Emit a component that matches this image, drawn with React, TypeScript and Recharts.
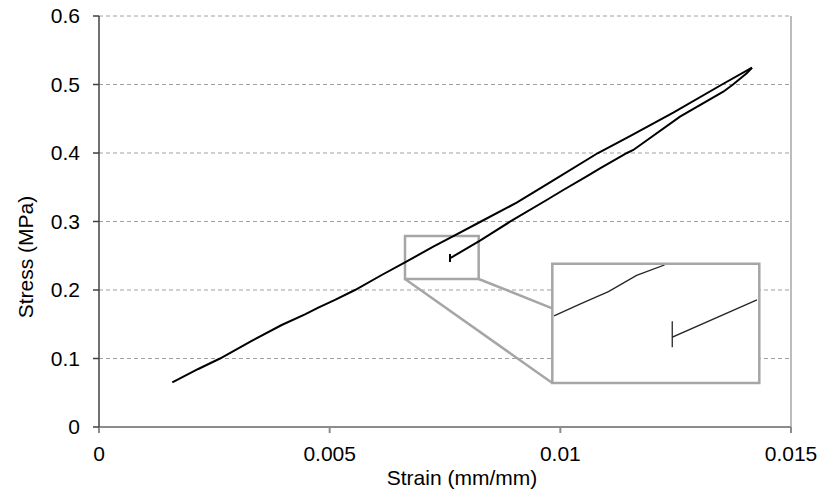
import {
  LineChart,
  Line,
  XAxis,
  YAxis,
  CartesianGrid,
  ReferenceArea,
  ReferenceLine,
} from "recharts";

// loading branch (strain mm/mm, stress MPa)
const loadStrain = [
  0.001589, 0.002152, 0.002623, 0.00331, 0.00396, 0.004465, 0.004754,
  0.005116, 0.005549, 0.006128, 0.006633, 0.007246, 0.00768, 0.00828,
  0.009054, 0.009776, 0.010816, 0.01151, 0.012448, 0.013504, 0.014155,
];
const loadStress = [
  0.0653, 0.0847, 0.1, 0.1256, 0.1489, 0.1645, 0.1742, 0.1855, 0.2,
  0.2219, 0.2404, 0.2632, 0.2788, 0.3, 0.3275, 0.357, 0.4, 0.4245, 0.459,
  0.5, 0.5245,
];

// unloading branch, ends with the small vertical tick
const unloadStrain = [
  0.014155, 0.01404, 0.013743, 0.013532, 0.012594, 0.011582, 0.011445,
  0.01086, 0.010571, 0.010064, 0.009704, 0.008909, 0.008259, 0.007608,
  0.007608, 0.007608,
];
const unloadStress = [
  0.5245, 0.5164, 0.5, 0.4895, 0.453, 0.4044, 0.4, 0.3777, 0.366, 0.346,
  0.3314, 0.2997, 0.272, 0.2463, 0.2526, 0.2409,
];

// magnified view (inset)
const insetLoadStrain = [0.006641, 0.006847, 0.007065, 0.007284, 0.007502];
const insetLoadStress = [0.2515, 0.258, 0.2645, 0.2732, 0.2788];
const insetUnloadStrain = [0.008222, 0.007562, 0.007562, 0.007562];
const insetUnloadStress = [0.2601, 0.2401, 0.2487, 0.2347];

// zoom window and inset frame (data units)
const zoomX = [0.006633, 0.00823];
const zoomY = [0.2161, 0.2788];
const frameX = [0.009826, 0.014313];
const frameY = [0.06423, 0.2384];
const connectorY = 0.1733;

const xTicks = [0, 0.005, 0.01, 0.015];
const yTicks = [0, 0.1, 0.2, 0.3, 0.4, 0.5, 0.6];

const zip = (xs: number[], ys: number[]) =>
  xs.map((x, i) => ({ x, y: ys[i] }));

const font = "'Liberation Sans', Arial, sans-serif";
const frameColor = "#a6a6a6";

const App = () => {
  const tickStyle = { fontFamily: font, fontSize: 21, fill: "#000" };

  return (
    <div style={{ position: "absolute", left: 0, top: 0, width: 822, height: 498 }}>
      <LineChart
        width={822}
        height={498}
        margin={{ top: 16, right: 31, bottom: 0, left: 0 }}
      >
        <CartesianGrid
          vertical={false}
          stroke="#a0a0a0"
          strokeDasharray="4 3"
        />
        <XAxis
          type="number"
          dataKey="x"
          domain={[0, 0.015]}
          ticks={xTicks}
          height={71}
          tick={tickStyle}
          tickSize={6}
          tickMargin={13}
          stroke="#8c8c8c"
          strokeWidth={2}
          label={() => (
            <text
              x={462}
              y={485}
              textAnchor="middle"
              fontFamily={font}
              fontSize={21}
              fill="#000"
            >
              Strain (mm/mm)
            </text>
          )}
        />
        <YAxis
          type="number"
          dataKey="y"
          domain={[0, 0.6]}
          ticks={yTicks}
          width={99}
          tick={tickStyle}
          tickSize={6}
          tickMargin={13}
          stroke="#404040"
          strokeWidth={1.5}
          label={() => (
            <text
              x={33}
              y={257}
              transform="rotate(-90 33 257)"
              textAnchor="middle"
              fontFamily={font}
              fontSize={21}
              fill="#000"
            >
              Stress (MPa)
            </text>
          )}
        />
        <ReferenceLine x={0.015} stroke={frameColor} strokeWidth={1.5} />
        <ReferenceArea
          x1={frameX[0]}
          x2={frameX[1]}
          y1={frameY[0]}
          y2={frameY[1]}
          fill="#fff"
          fillOpacity={1}
          stroke={frameColor}
          strokeWidth={2.5}
        />
        <ReferenceArea
          x1={zoomX[0]}
          x2={zoomX[1]}
          y1={zoomY[0]}
          y2={zoomY[1]}
          fill="none"
          stroke={frameColor}
          strokeWidth={2.5}
        />
        <ReferenceLine
          segment={[
            { x: zoomX[0], y: zoomY[0] },
            { x: frameX[0], y: frameY[0] },
          ]}
          stroke={frameColor}
          strokeWidth={2.5}
        />
        <ReferenceLine
          segment={[
            { x: zoomX[1], y: zoomY[0] },
            { x: frameX[0], y: connectorY },
          ]}
          stroke={frameColor}
          strokeWidth={2.5}
        />
        <Line
          data={zip(loadStrain, loadStress)}
          dataKey="y"
          type="linear"
          stroke="#000"
          strokeWidth={2}
          dot={false}
          isAnimationActive={false}
        />
        <Line
          data={zip(unloadStrain, unloadStress)}
          dataKey="y"
          type="linear"
          stroke="#000"
          strokeWidth={2}
          dot={false}
          isAnimationActive={false}
        />
      </LineChart>

      <div style={{ position: "absolute", left: 553, top: 265, width: 205, height: 117 }}>
        <LineChart
          width={205}
          height={117}
          margin={{ top: 0, right: 0, bottom: 0, left: 0 }}
        >
          <XAxis
            type="number"
            dataKey="x"
            domain={zoomX}
            allowDataOverflow
            hide
          />
          <YAxis
            type="number"
            dataKey="y"
            domain={zoomY}
            allowDataOverflow
            hide
          />
          <Line
            data={zip(insetLoadStrain, insetLoadStress)}
            dataKey="y"
            type="linear"
            stroke="#262626"
            strokeWidth={1.3}
            dot={false}
            isAnimationActive={false}
          />
          <Line
            data={zip(insetUnloadStrain, insetUnloadStress)}
            dataKey="y"
            type="linear"
            stroke="#262626"
            strokeWidth={1.3}
            dot={false}
            isAnimationActive={false}
          />
        </LineChart>
      </div>
    </div>
  );
};

export default App;
